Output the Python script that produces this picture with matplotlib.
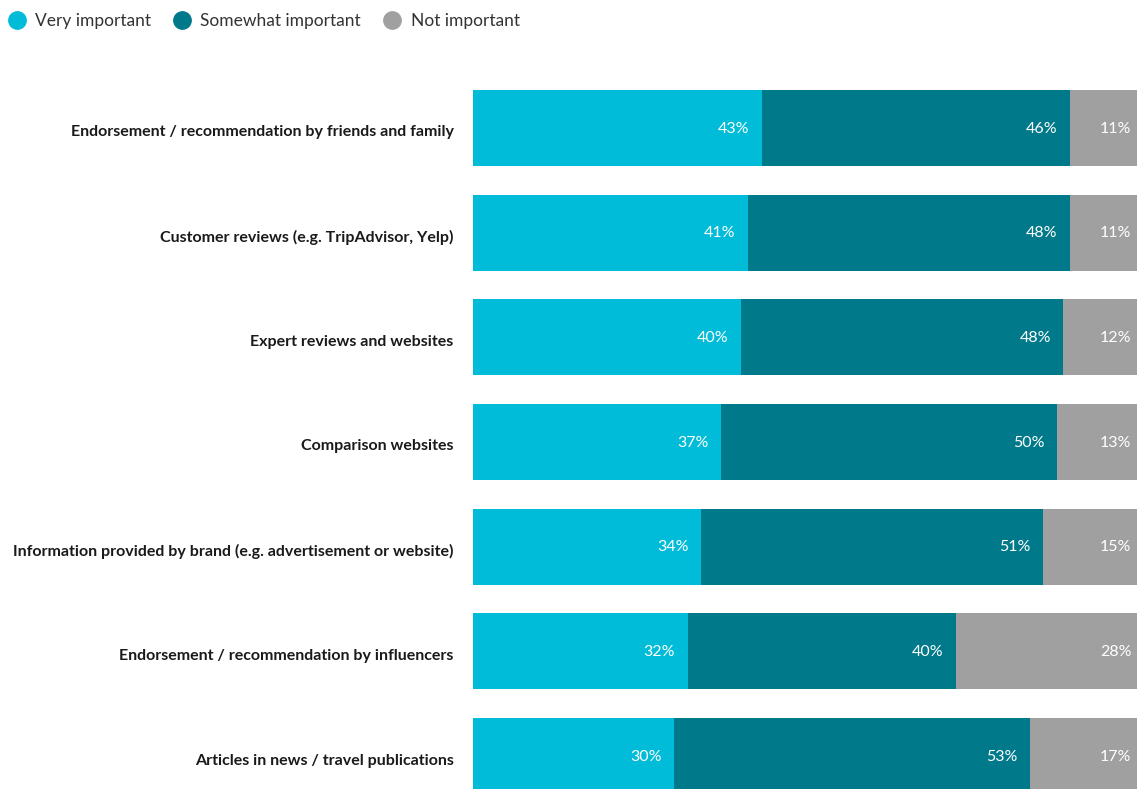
import matplotlib.pyplot as plt
import matplotlib.transforms as mtransforms
from matplotlib.lines import Line2D

categories = [
    'Endorsement / recommendation by friends and family',
    'Customer reviews (e.g. TripAdvisor, Yelp)',
    'Expert reviews and websites',
    'Comparison websites',
    'Information provided by brand (e.g. advertisement or website)',
    'Endorsement / recommendation by influencers',
    'Articles in news / travel publications',
]
very_important = [43, 41, 40, 37, 34, 32, 30]
somewhat_important = [46, 48, 48, 50, 51, 40, 53]
not_important = [11, 11, 12, 13, 15, 28, 17]

series_names = ['Very important', 'Somewhat important', 'Not important']
colors = ['#00bcd8', '#00798a', '#a0a0a0']

plt.rcParams['font.family'] = ['Lato', 'DejaVu Sans']

W, H = 1137, 789
fig = plt.figure(figsize=(W / 100, H / 100), dpi=100)
# bars run a little past the right edge of the canvas
ax = fig.add_axes([473 / W, 0, 671 / W, (H - 60) / H])

ypos = list(range(len(categories)))
left = [0] * len(categories)
for name, vals, col in zip(series_names, [very_important, somewhat_important, not_important], colors):
    ax.barh(ypos, vals, left=left, height=0.726, color=col, label=name)
    for y, l, v in zip(ypos, left, vals):
        ax.annotate(f'{v}%', xy=(l + v, y), xytext=(-9, -0.5), textcoords='offset points',
                    ha='right', va='center', color='white', fontsize=11.5)
    left = [l + v for l, v in zip(left, vals)]

ax.set_xlim(0, 100)
ax.set_ylim(6 + 33 / 104.7, -68 / 104.7)
ax.set_yticks(ypos)
ax.set_yticklabels(categories, fontsize=11.5, fontweight='bold', color='#1a1a1a')
ax.tick_params(axis='y', length=0, pad=14)
# nudge category labels down a few pixels
offset = mtransforms.ScaledTranslation(0, -3 / 100, fig.dpi_scale_trans)
for t in ax.get_yticklabels():
    t.set_transform(t.get_transform() + offset)
ax.set_xticks([])
for s in ax.spines.values():
    s.set_visible(False)

handles = [Line2D([], [], marker='o', linestyle='', markersize=12.5, color=c) for c in colors]
fig.legend(handles, series_names, loc='upper left', bbox_to_anchor=(-0.0097, 0.997), ncol=3,
           frameon=False, fontsize=12.5, handletextpad=0.05, columnspacing=0.8,
           labelcolor='#333333', borderaxespad=0.2)

fig.savefig('out.png', dpi=100)
